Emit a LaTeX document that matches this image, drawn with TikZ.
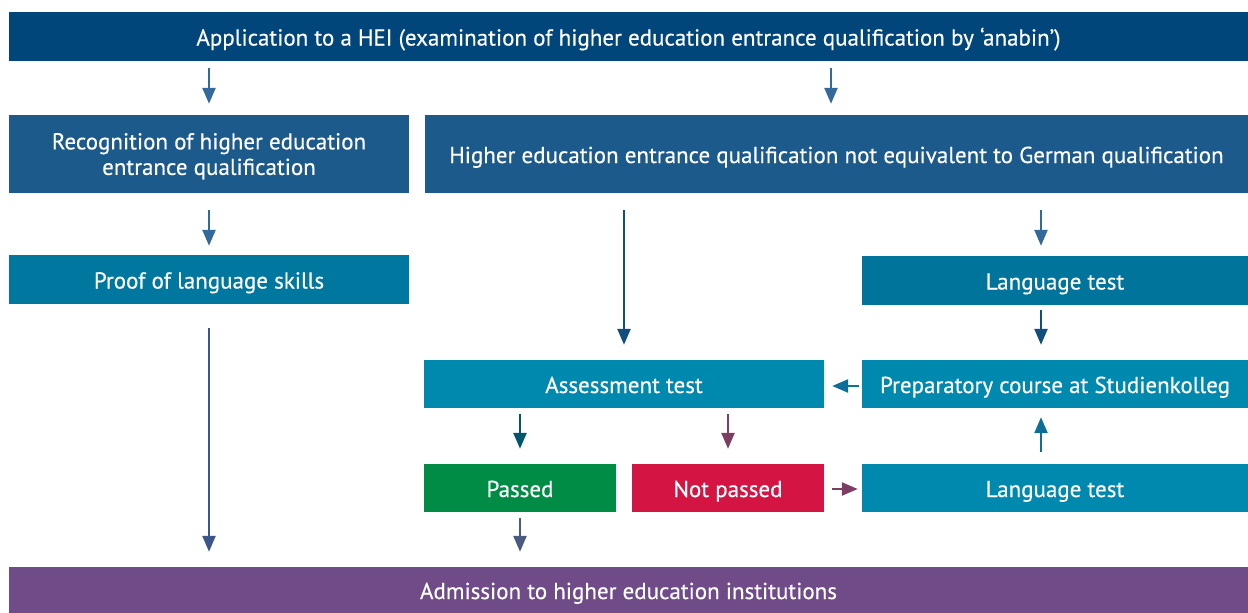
\documentclass[tikz,border=0pt]{standalone}
\usepackage{fontspec}
\setmainfont{PT Sans}[FakeBold=0.5]
\newfontfamily\boxfont{PT Sans}[FakeBold=0.5]
\usetikzlibrary{arrows.meta}
\definecolor{cTop}{HTML}{00467A}
\definecolor{cRec}{HTML}{1B5A8A}
\definecolor{cProof}{HTML}{00779E}
\definecolor{cLang}{HTML}{00749A}
\definecolor{cLight}{HTML}{0089AF}
\definecolor{cPass}{HTML}{008C45}
\definecolor{cFail}{HTML}{D41543}
\definecolor{cAdm}{HTML}{6F4B87}
\definecolor{aBlue}{HTML}{336A9C}
\definecolor{aDark}{HTML}{0F4F80}
\definecolor{aTeal}{HTML}{0B6F97}
\definecolor{aDeep}{HTML}{00566F}
\definecolor{aPurRed}{HTML}{7E3E64}
\definecolor{aLongMix}{HTML}{3B568A}
\definecolor{aPassMix}{HTML}{4A5A80}
\tikzset{
  box/.style={rectangle, inner sep=0pt, text=white, align=center,
    font=\boxfont\fontsize{23}{25.5}\selectfont\addfontfeature{FakeBold=0.35}},
  one/.style={text height=18pt, text depth=0pt},
  arr/.style={line width=2.4pt, -{Triangle[width=13pt,length=16pt]}},
}
\begin{document}
\begin{tikzpicture}[x=1pt,y=-1pt]
\useasboundingbox (0,0) rectangle (1248,613);
\fill[white] (0,0) rectangle (1248,613);
% column coordinates
\coordinate (cA) at (209,0);
\coordinate (cB) at (831,0);
\coordinate (cC) at (624,0);
\coordinate (cD) at (1041,0);
\coordinate (cE) at (520,0);
\coordinate (cF) at (728,0);
\coordinate (rP) at (0,386);
\coordinate (rN) at (0,489);
% boxes
\node[box, one, fill=cTop, minimum width=1239pt, minimum height=49pt] (top) at (628.5,36.5)
  {Application to a HEI (examination of higher education entrance qualification by ‘anabin’)};
\node[box, text depth=0pt, fill=cRec, minimum width=400pt, minimum height=78pt] (rec) at (209,154)
  {Recognition of higher education\\entrance qualification};
\node[box, one, fill=cRec, minimum width=823pt, minimum height=78pt] (noteq) at (836.5,154)
  {Higher education entrance qualification not equivalent to German qualification};
\node[box, one, fill=cProof, minimum width=400pt, minimum height=49pt] (proof) at (209,279.5)
  {Proof of language skills};
\node[box, one, fill=cLang, minimum width=386pt, minimum height=49pt] (lang1) at (1055,280.5)
  {Language test};
\node[box, one, fill=cLight, minimum width=400pt, minimum height=48pt] (assess) at (624,384)
  {Assessment test};
\node[box, one, fill=cLight, minimum width=386pt, minimum height=48pt] (prep) at (1055,384)
  {Preparatory course at Studienkolleg};
\node[box, one, fill=cPass, minimum width=192pt, minimum height=48pt] (passed) at (520,488)
  {Passed};
\node[box, one, fill=cFail, minimum width=192pt, minimum height=48pt] (notp) at (728,488)
  {Not passed};
\node[box, one, fill=cLight, minimum width=386pt, minimum height=48pt] (lang2) at (1055,488)
  {Language test};
\node[box, one, fill=cAdm, minimum width=1239pt, minimum height=46pt] (adm) at (628.5,590)
  {Admission to higher education institutions};
% connectors
\draw[arr, aBlue, shorten <=7pt, shorten >=11pt] (top.south -| cA) -- (rec.north -| cA);
\draw[arr, aBlue, shorten <=7pt, shorten >=11pt] (top.south -| cB) -- (noteq.north -| cB);
\draw[arr, aBlue, shorten <=17pt, shorten >=9pt] (rec.south -| cA) -- (proof.north -| cA);
\draw[arr, aLongMix, shorten <=24pt, shorten >=15pt] (proof.south -| cA) -- (adm.north -| cA);
\draw[arr, aDark, shorten <=17pt, shorten >=15pt] (noteq.south -| cC) -- (assess.north -| cC);
\draw[arr, aBlue, shorten <=17pt, shorten >=10pt] (noteq.south -| cD) -- (lang1.north -| cD);
\draw[arr, aDark, shorten <=5pt, shorten >=15pt] (lang1.south -| cD) -- (prep.north -| cD);
\draw[arr, aTeal, shorten <=3pt, shorten >=8pt] (prep.west |- rP) -- (assess.east |- rP);
\draw[arr, aDeep, shorten <=6pt, shorten >=15pt] (assess.south -| cE) -- (passed.north -| cE);
\draw[arr, aPurRed, shorten <=6pt, shorten >=15pt] (assess.south -| cF) -- (notp.north -| cF);
\draw[arr, aPurRed, shorten <=8pt, shorten >=4pt] (notp.east |- rN) -- (lang2.west |- rN);
\draw[arr, aTeal, shorten <=12pt, shorten >=9pt] (lang2.north -| cD) -- (prep.south -| cD);
\draw[arr, aPassMix, shorten <=6pt, shorten >=15pt] (passed.south -| cE) -- (adm.north -| cE);
\end{tikzpicture}
\end{document}
